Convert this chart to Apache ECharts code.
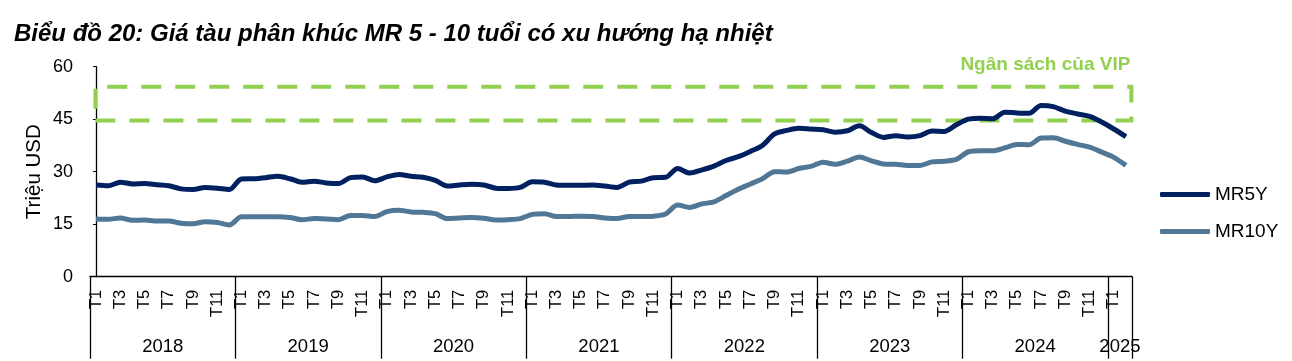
<!DOCTYPE html>
<html>
<head>
<meta charset="utf-8">
<script src="https://cdn.jsdelivr.net/npm/echarts@6/dist/echarts.min.js"></script>
<style>
html,body{margin:0;padding:0;background:#fff;}
#c{width:1292px;height:361px;}
</style>
</head>
<body>
<div id="c"></div>
<script>
// ---- data ----
var years = ['2018','2019','2020','2021','2022','2023','2024','2025'];
var monthLabels = ['T1','T2','T3','T4','T5','T6','T7','T8','T9','T10','T11','T12'];
var mr5y = [
  26.2, 26.0, 27.0, 26.5, 26.6, 26.3, 26.0, 25.1, 24.9, 25.5, 25.3, 24.9,
  27.9, 28.0, 28.3, 28.7, 28.0, 27.0, 27.3, 26.8, 26.6, 28.3, 28.5, 27.4,
  28.5, 29.2, 28.7, 28.4, 27.5, 25.9, 26.2, 26.4, 26.2, 25.3, 25.2, 25.5,
  27.1, 27.0, 26.2, 26.1, 26.1, 26.2, 25.9, 25.5, 27.0, 27.3, 28.3, 28.4,
  30.9, 29.6, 30.5, 31.6, 33.2, 34.3, 35.8, 37.5, 40.8, 41.8, 42.4, 42.2,
  42.0, 41.3, 41.7, 43.1, 41.2, 39.8, 40.3, 39.9, 40.3, 41.6, 41.5, 43.4,
  45.0, 45.3, 45.1, 47.0, 46.8, 46.7, 48.9, 48.6, 47.3, 46.5, 45.8, 44.2,
  42.2, 40.0
];
var mr10y = [
  16.5, 16.4, 16.8, 16.1, 16.2, 15.9, 15.9, 15.3, 15.1, 15.7, 15.5, 14.8,
  17.1, 17.1, 17.1, 17.1, 16.9, 16.3, 16.6, 16.5, 16.3, 17.5, 17.5, 17.2,
  18.6, 19.0, 18.5, 18.4, 18.0, 16.6, 16.8, 16.9, 16.7, 16.2, 16.3, 16.6,
  17.8, 18.0, 17.2, 17.2, 17.3, 17.2, 16.8, 16.6, 17.2, 17.2, 17.3, 17.9,
  20.5, 19.8, 20.8, 21.4, 23.2, 25.0, 26.5, 28.0, 30.0, 29.9, 30.9, 31.5,
  32.7, 32.1, 33.0, 34.2, 33.1, 32.2, 32.1, 31.8, 31.8, 32.8, 33.0, 33.5,
  35.7, 36.0, 36.0, 36.8, 37.8, 37.7, 39.6, 39.7, 38.7, 37.8, 37.0, 35.6,
  34.1, 31.8
];
var budgetRange = [44.6, 54.3];
var budgetLabel = 'Ngân sách của VIP';
var yTicks = [0, 15, 30, 45, 60];

// build categories (one per month, from T1/2018)
var categories = [];
for (var i = 0; i < mr5y.length; i++) {
  categories.push(monthLabels[i % 12] + '/' + years[Math.floor(i / 12)]);
}
var n = categories.length;

var FONT = 'Liberation Sans, Arial, sans-serif';
var chart = echarts.init(document.getElementById('c'), null, {renderer: 'canvas'});
chart.setOption({
  animation: false,
  backgroundColor: '#fff',
  title: {
    text: 'Biểu đồ 20: Giá tàu phân khúc MR 5 - 10 tuổi có xu hướng hạ nhiệt',
    left: 9, top: 17,
    textStyle: {fontFamily: FONT, fontSize: 24, fontWeight: 'bold', fontStyle: 'italic', color: '#000'}
  },
  legend: {
    data: ['MR5Y', 'MR10Y'],
    orient: 'vertical',
    left: 1160, top: 185, padding: 0,
    icon: 'roundRect',
    itemWidth: 50, itemHeight: 5, itemGap: 18,
    textStyle: {fontFamily: FONT, fontSize: 19, color: '#000'}
  },
  grid: {left: 90, right: 160, top: 66.7, bottom: 84.3, containLabel: false},
  xAxis: [
    {
      type: 'category', data: categories, boundaryGap: true, position: 'bottom',
      axisLine: {show: true, lineStyle: {color: '#000', width: 1.3}},
      axisTick: {show: true, length: 82, lineStyle: {color: '#000', width: 1.3},
        interval: function (idx) { return idx % 12 === 0; }},
      axisLabel: {
        interval: 1, rotate: 90, margin: 13,
        fontFamily: FONT, fontSize: 16.5, color: '#000',
        formatter: function (v) { return v.split('/')[0]; }
      },
      splitLine: {show: false}
    },
    {
      type: 'category', data: categories, boundaryGap: true, position: 'bottom',
      axisLine: {show: false}, axisTick: {show: false}, splitLine: {show: false},
      axisLabel: {
        interval: function (idx) { return idx % 12 === 6 || idx === n - 1; },
        margin: 61, fontFamily: FONT, fontSize: 18.5, color: '#000',
        padding: [0, 12, 0, 0],
        formatter: function (v) { return v.split('/')[1]; }
      }
    },
    {
      type: 'value', show: false, min: -0.5, max: n - 0.5
    }
  ],
  yAxis: {
    type: 'value', min: 0, max: 60, interval: 15,
    name: 'Triệu USD', nameLocation: 'middle', nameGap: 45, nameRotate: 90,
    nameMoveOverlap: false,
    nameTextStyle: {fontFamily: FONT, fontSize: 20.5, color: '#000'},
    axisLine: {show: true, lineStyle: {color: '#000', width: 1.3}},
    axisTick: {show: true, length: 3, inside: false, lineStyle: {color: '#000'}},
    axisLabel: {margin: 17, fontFamily: FONT, fontSize: 18, color: '#000',
      formatter: function (v) { return yTicks.indexOf(v) >= 0 ? String(v) : ''; }},
    splitLine: {show: false}
  },
  series: [
    {
      name: 'MR5Y', type: 'line', data: mr5y, xAxisIndex: 0,
      smooth: 0.3, symbol: 'none',
      lineStyle: {color: '#002060', width: 5},
      itemStyle: {color: '#002060'}, z: 3
    },
    {
      name: 'MR10Y', type: 'line', data: mr10y, xAxisIndex: 0,
      smooth: 0.3, symbol: 'none',
      lineStyle: {color: '#507796', width: 5},
      itemStyle: {color: '#507796'}, z: 2
    },
    {
      name: 'budget', type: 'line', xAxisIndex: 2, data: [],
      symbol: 'none', silent: true,
      markArea: {
        silent: true,
        itemStyle: {color: 'rgba(0,0,0,0)', borderColor: '#92D050', borderWidth: 4,
          borderType: [20, 14], borderRadius: 4},
        label: {
          show: true, position: ['100%', -10], offset: [-3, 0], align: 'right', verticalAlign: 'bottom',
          formatter: budgetLabel,
          fontFamily: FONT, fontSize: 19, fontWeight: 'bold', color: '#92D050'
        },
        data: [[{xAxis: -0.05, yAxis: budgetRange[0]}, {xAxis: n - 0.55, yAxis: budgetRange[1]}]]
      },
      z: 1
    }
  ]
});
</script>
</body>
</html>
